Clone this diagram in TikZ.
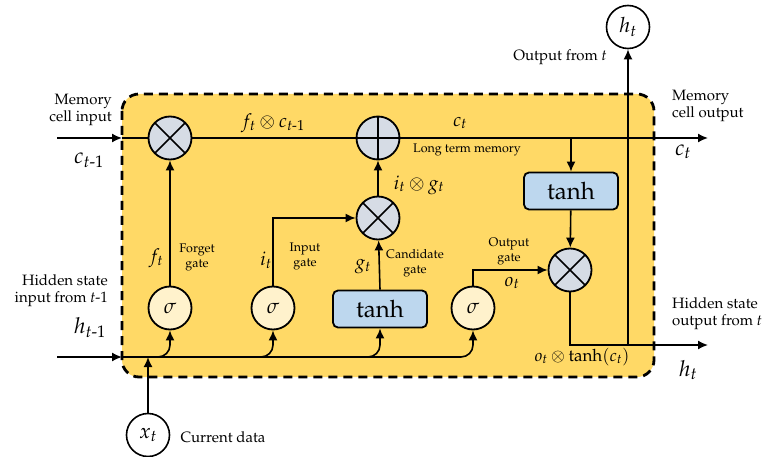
\documentclass[tikz,border=0pt]{standalone}
\usepackage[T1]{fontenc}
\usepackage{amsmath}
\usepackage{mathpazo}
\usepackage{tikz}
\usetikzlibrary{arrows.meta,positioning}
\usepackage{xcolor}

\definecolor{cellyellow}{RGB}{255,217,102}
\definecolor{mulgray}{RGB}{214,220,229}
\definecolor{tanhblue}{RGB}{189,215,238}
\definecolor{sigyellow}{RGB}{255,242,204}

\tikzset{
  wire/.style={line width=1.6pt},
  arr/.style={line width=1.6pt,-{Latex[length=10pt,width=9pt]}},
  opcirc/.style={circle,draw,line width=1.8pt,fill=mulgray,minimum size=43pt,inner sep=0pt},
  mulop/.style={opcirc,path picture={\draw[line width=1.6pt] (path picture bounding box.north west) -- (path picture bounding box.south east) (path picture bounding box.north east) -- (path picture bounding box.south west);}},
  addop/.style={opcirc,path picture={\draw[line width=1.6pt] (path picture bounding box.north) -- (path picture bounding box.south) (path picture bounding box.west) -- (path picture bounding box.east);}},
  sig/.style={circle,draw,line width=1.8pt,fill=sigyellow,minimum size=43pt,inner sep=0pt,font=\fontsize{21}{21}\selectfont},
  io/.style={circle,draw,line width=1.6pt,fill=white,minimum size=43pt,inner sep=0pt,font=\fontsize{21}{21}\selectfont},
  tanhbox/.style={draw,line width=1.8pt,fill=tanhblue,rounded corners=5pt,minimum width=94pt,minimum height=37pt,inner sep=0pt,font=\fontsize{24}{24}\selectfont},
  txt/.style={font=\fontsize{15}{17}\selectfont,inner sep=0pt},
  smalltxt/.style={font=\fontsize{12.5}{15}\selectfont,inner sep=0pt,align=center},
  bigmath/.style={font=\fontsize{22}{22}\selectfont,inner sep=0pt},
  midmath/.style={font=\fontsize{19}{19}\selectfont,inner sep=0pt}
}

\begin{document}
\begin{tikzpicture}[x=1pt,y=1pt]
\useasboundingbox (0,0) rectangle (763,-457);

%Cell
\draw[line width=2.8pt,dash pattern=on 9pt off 6pt,fill=cellyellow,rounded corners=17pt] (122,-94) rectangle (654,-377);

%Ends of the lines
\coordinate (cin) at (57,-138);
\coordinate (cbox) at (122,-138);
\coordinate (cout) at (708,-138);
\coordinate (hin) at (57,-357);
\coordinate (hbox) at (122,-357);
\coordinate (hout) at (708,-345);

%Operations
\node[mulop] (fmul) at (170,-138) {};
\node[addop] (add) at (378,-138) {};
\node[mulop] (imul) at (378,-218) {};
\node[mulop] (omul) at (570,-270) {};
\node[tanhbox] (tanhu) at (571,-191) {tanh};
\node[tanhbox] (tanhc) at (380,-309) {tanh};

%Gates
\node[sig] (fsig) at (170,-308) {$\sigma$};
\node[sig] (isig) at (273,-308) {$\sigma$};
\node[sig] (osig) at (473,-308) {$\sigma$};

%Input and output
\node[io] (xt) at (148,-435) {$x_t$};
\node[io] (ht) at (628,-27) {$h_t$};

%Memory line
\draw[arr] (cin) -- (cbox);
\draw[wire] (cbox) -- (fmul);
\draw[wire] (fmul) -- (add);
\draw[arr] (add) -- (cout);
\draw[arr] (tanhu.north |- cout) -- (tanhu);
\draw[arr] (tanhu) -- (omul);
\draw[arr] (omul) |- (hout);
\draw[arr] (ht.south |- hout) -- (ht);

%Hidden line
\draw[arr] (hin) -- (hbox);
\draw[arr,rounded corners=12pt] (hbox) -| (osig);
\draw[arr,rounded corners=12pt] ([xshift=-16pt]fsig.south |- hbox) -| (fsig);
\draw[arr,rounded corners=12pt] ([xshift=-16pt]isig.south |- hbox) -| (isig);
\draw[arr,rounded corners=12pt] ([xshift=-16pt]tanhc.south |- hbox) -| (tanhc.south);
\draw[arr] (xt) -- (xt.north |- hbox);

%Gate outputs
\draw[arr] (fsig) -- (fmul);
\draw[arr] (isig) |- (imul);
\draw[arr] (tanhc.north) -- (imul);
\draw[arr] (imul) -- (add);
\draw[arr] (osig) |- (omul);

%Labels
\node[txt,align=right,anchor=east] (cinlbl) at (112,-110) {Memory\\cell input};
\node[bigmath] (cprev) at (89,-160) {$c_{t\text{-}1}$};
\node[txt,align=right,anchor=east] (hinlbl) at (108,-291) {Hidden state\\input from \textit{t}-1};
\node[bigmath] (hprev) at (90,-328) {$h_{t\text{-}1}$};
\node[midmath] (fclbl) at (273,-123) {$f_t\otimes c_{t\text{-}1}$};
\node[midmath] (ctlbl) at (460,-123) {$c_t$};
\node[smalltxt] (ltm) at (467,-150) {Long term memory};
\node[midmath] (iglbl) at (419,-185) {$i_t\otimes g_t$};
\node[midmath] (ftlbl) at (156,-258) {$f_t$};
\node[smalltxt] (fgate) at (197,-257) {Forget\\gate};
\node[midmath] (itlbl) at (266,-260) {$i_t$};
\node[smalltxt] (igate) at (305,-256) {Input\\gate};
\node[midmath] (gtlbl) at (363,-267) {$g_t$};
\node[smalltxt] (cgate) at (415,-263) {Candidate\\gate};
\node[smalltxt] (ogate) at (509,-251) {Output\\gate};
\node[midmath] (otlbl) at (512,-283) {$o_t$};
\node[font=\fontsize{17}{17}\selectfont,inner sep=0pt] (hlbl) at (582,-357) {$o_t\otimes\tanh(c_t)$};
\node[bigmath] (htlbl) at (688,-370) {$h_t$};
\node[txt,align=left,anchor=west] (houtlbl) at (672,-314) {Hidden state\\output from \textit{t}};
\node[txt,align=left,anchor=west] (coutlbl) at (672,-106) {Memory\\cell output};
\node[bigmath] (cnext) at (683,-152) {$c_t$};
\node[txt] (outlbl) at (560,-57) {Output from \textit{t}};
\node[txt] (xtlbl) at (223,-437) {Current data};
\end{tikzpicture}
\end{document}
